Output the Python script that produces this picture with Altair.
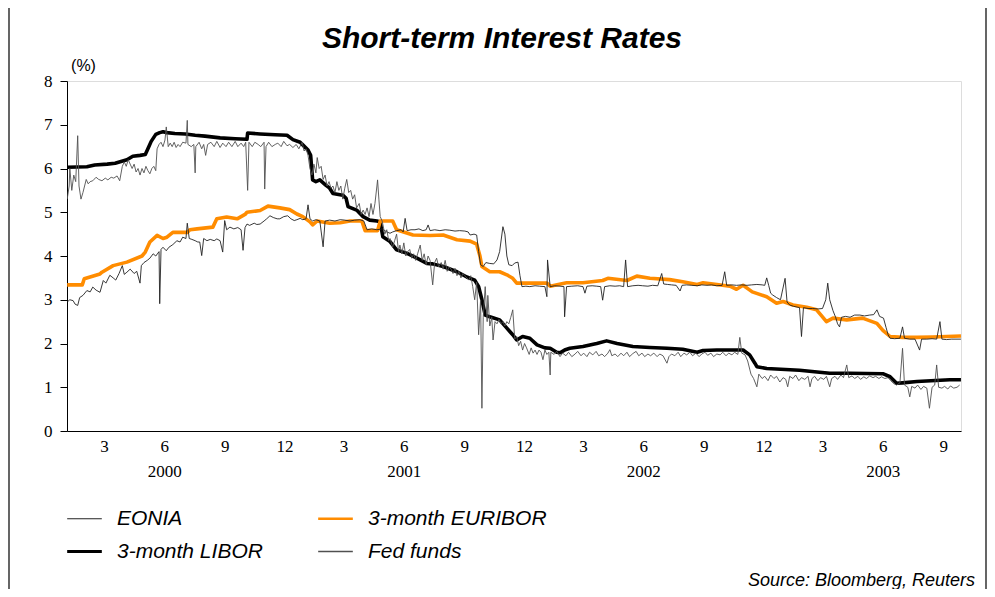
import altair as alt
import pandas as pd

# ---- data: (day offset from 2000-01-01, rate in %) ----
LIBOR = [(4,6.03),(34,6.04),(46,6.08),(65,6.10),(77,6.12),(95,6.20),(104,6.28),(115,6.30),(123,6.32),(127,6.45),
         (132,6.62),(139,6.78),(145,6.82),(150,6.84),(156,6.82),(168,6.80),(184,6.79),(199,6.76),(214,6.74),(237,6.70),
         (260,6.68),(278,6.67),(279,6.81),(298,6.79),(321,6.77),(339,6.76),(348,6.66),(359,6.60),(363,6.54),(371,6.42),
         (375,6.30),(378,5.74),(383,5.70),(389,5.74),(398,5.62),(404,5.55),(409,5.43),(424,5.39),(429,5.32),(432,5.13),
         (445,5.05),(455,4.90),(465,4.82),(476,4.80),(481,4.78),(485,4.44),(496,4.33),(506,4.14),(522,4.06),(537,3.95),
         (552,3.83),(561,3.82),(577,3.76),(598,3.64),(613,3.52),(625,3.45),(631,3.30),(636,3.00),(641,2.65),(648,2.61),
         (663,2.54),(674,2.35),(683,2.20),(689,2.08),(698,2.16),(709,2.12),(720,1.97),(732,1.90),(740,1.89),(750,1.80),
         (755,1.79),(762,1.85),(770,1.89),(790,1.93),(811,2.00),(826,2.06),(842,2.00),(866,1.93),(892,1.91),(918,1.89),
         (942,1.87),(964,1.80),(973,1.84),(994,1.85),(1034,1.85),(1044,1.74),(1052,1.55),(1055,1.47),(1070,1.43),(1120,1.39),
         (1166,1.32),(1197,1.32),(1247,1.31),(1258,1.24),(1268,1.09),(1277,1.10),(1299,1.13),(1349,1.17),(1366,1.17)]

EURIBOR = [(4,3.34),(27,3.34),(30,3.48),(54,3.59),(57,3.63),(74,3.78),(95,3.86),(118,4.00),(123,4.09),(130,4.32),
           (141,4.47),(150,4.40),(156,4.43),(165,4.54),(187,4.54),(191,4.60),(202,4.62),(226,4.66),(232,4.85),(247,4.89),
           (263,4.85),(275,4.95),(278,5.00),(298,5.04),(310,5.14),(328,5.10),(343,5.06),(354,4.96),(363,4.90),(374,4.78),
           (378,4.71),(385,4.80),(404,4.75),(420,4.76),(435,4.80),(453,4.80),(458,4.58),(477,4.58),(481,4.80),(500,4.80),
           (506,4.60),(531,4.48),(557,4.47),(577,4.48),(598,4.37),(618,4.34),(628,4.27),(633,4.00),(636,3.76),(648,3.64),
           (663,3.64),(674,3.57),(683,3.49),(689,3.38),(709,3.38),(735,3.38),(740,3.31),(765,3.39),(790,3.39),(820,3.44),
           (828,3.49),(857,3.44),(872,3.54),(892,3.49),(922,3.46),(942,3.41),(964,3.35),(973,3.39),(994,3.35),(1014,3.31),
           (1024,3.24),(1034,3.33),(1048,3.18),(1070,3.07),(1085,2.92),(1095,2.96),(1110,2.88),(1131,2.83),(1146,2.77),(1155,2.61),
           (1161,2.50),(1171,2.58),(1192,2.54),(1216,2.58),(1238,2.46),(1247,2.30),(1258,2.16),(1277,2.14),(1299,2.14),(1323,2.15),
           (1366,2.17)]

EONIA = [(4,2.95),(8,3.0),(13,2.98),(16,2.9),(20,2.87),(23,3.05),(28,3.1),(34,3.21),(39,3.18),(43,3.29),(48,3.22),(54,3.17),
         (59,3.44),(63,3.38),(69,3.56),(74,3.5),(78,3.45),(83,3.6),(88,3.78),(91,3.58),(95,3.63),(100,3.7),(106,3.6),(110,3.65),
         (115,3.38),(117,3.78),(121,3.85),(126,3.9),(130,3.95),(135,4.05),(139,4.0),(144,4.1),(145,2.91),(147,4.15),(150,4.2),
         (155,4.12),(159,4.2),(164,4.25),(168,4.3),(171,4.35),(176,4.32),(180,4.43),(185,4.4),(187,4.75),(190,4.4),(194,4.38),
         (199,4.35),(203,4.32),(206,4.32),(209,4.01),(212,4.4),(217,4.35),(222,4.38),(228,4.35),(232,4.39),(237,4.35),(241,4.09),
         (244,4.81),(247,4.6),(252,4.66),(258,4.62),(264,4.65),(269,4.6),(272,4.13),(275,4.65),(278,4.73),(282,4.7),(289,4.75),
         (293,4.72),(298,4.73),(304,4.8),(308,4.85),(313,4.92),(318,4.88),(324,4.85),(328,4.85),(334,4.9),(340,4.92),(345,4.85),
         (350,4.81),(354,4.83),(359,4.86),(363,4.83),(368,4.85),(371,5.17),(374,4.85),(378,4.8),(383,4.83),(389,4.8),(394,4.21),
         (397,4.8),(404,4.82),(412,4.8),(420,4.83),(427,4.82),(435,4.8),(442,4.82),(450,4.83),(456,4.8),(461,4.6),(468,4.62),
         (476,4.6),(484,4.62),(491,4.55),(496,4.52),(500,4.55),(506,4.58),(513,4.6),(516,4.55),(519,4.86),(522,4.58),(528,4.6),
         (534,4.6),(540,4.62),(546,4.58),(551,4.6),(554,4.71),(557,4.58),(564,4.6),(572,4.58),(580,4.6),(587,4.59),(595,4.57),
         (602,4.58),(610,4.57),(615,4.55),(618,4.48),(624,4.5),(628,4.48),(631,4.1),(634,3.8),(638,3.76),(642,3.85),(648,3.83),
         (654,3.82),(659,3.91),(663,4.1),(668,4.67),(671,4.5),(674,4.0),(677,3.8),(682,3.78),(686,3.84),(691,3.86),(694,3.55),
         (697,3.3),(703,3.31),(709,3.3),(717,3.32),(724,3.31),(732,3.3),(735,3.07),(736,3.91),(740,3.3),(747,3.32),(755,3.31),
         (761,3.3),(762,2.61),(765,3.3),(773,3.31),(782,3.32),(790,3.3),(793,3.15),(796,3.31),(804,3.32),(811,3.31),(817,3.3),
         (820,2.99),(823,3.3),(831,3.32),(839,3.31),(846,3.32),(852,3.3),(855,3.91),(858,3.3),(866,3.32),(874,3.33),(881,3.32),
         (889,3.31),(896,3.33),(904,3.32),(910,3.6),(913,3.36),(919,3.35),(925,3.34),(932,3.33),(938,3.2),(941,3.33),(948,3.34),
         (956,3.33),(964,3.32),(971,3.34),(979,3.33),(986,3.34),(994,3.32),(1002,3.33),(1006,3.64),(1009,3.33),(1017,3.34),
         (1024,3.33),(1032,3.34),(1040,3.33),(1047,3.34),(1055,3.35),(1063,3.34),(1067,3.33),(1070,3.5),(1073,3.33),(1076,3.15),
         (1079,3.11),(1085,3.05),(1091,3.0),(1098,3.49),(1101,2.95),(1105,2.88),(1111,2.85),(1120,2.82),(1123,2.16),(1126,2.82),
         (1133,2.8),(1140,2.8),(1148,2.79),(1155,2.8),(1160,3.0),(1163,3.38),(1166,3.0),(1171,2.75),(1175,2.6),(1178,2.45),
         (1181,2.38),(1184,2.6),(1190,2.62),(1197,2.6),(1204,2.65),(1212,2.65),(1219,2.63),(1227,2.65),(1233,2.66),(1238,2.77),
         (1242,2.62),(1248,2.58),(1252,2.36),(1255,2.2),(1258,2.12),(1265,2.11),(1273,2.12),(1277,2.38),(1280,2.12),(1288,2.1),
         (1296,2.1),(1303,1.85),(1306,2.1),(1314,2.1),(1322,2.11),(1329,2.1),(1334,2.5),(1337,2.1),(1344,2.09),(1352,2.1),
         (1360,2.1),(1366,2.1)]

FED_FUNDS = [(4,5.3),(7,5.6),(8,6.0),(11,5.5),(14,5.85),(17,5.7),(20,6.75),(22,5.6),(25,5.3),(28,5.45),(33,5.75),(36,5.65),
             (39,5.7),(43,5.72),(48,5.8),(52,5.75),(57,5.72),(62,5.78),(66,5.74),(71,5.8),(75,5.78),(80,5.83),(84,5.72),(88,6.05),
             (91,6.15),(94,6.05),(97,6.2),(100,6.1),(103,6.0),(106,6.1),(109,5.92),(112,6.0),(115,5.85),(118,6.0),(121,5.9),
             (124,6.05),(127,5.95),(130,5.88),(133,6.0),(136,6.05),(139,5.95),(141,6.45),(144,6.55),(147,6.6),(150,6.5),(153,6.65),
             (155,6.95),(158,6.5),(161,6.58),(164,6.5),(167,6.6),(170,6.48),(173,6.55),(176,6.5),(180,6.6),(185,6.58),(187,7.1),
             (188,6.55),(193,6.5),(197,6.55),(199,5.9),(200,6.5),(205,6.6),(209,6.45),(212,6.55),(215,6.3),(218,6.55),(223,6.6),
             (228,6.5),(232,6.62),(237,6.48),(241,6.58),(246,6.5),(250,6.6),(255,6.5),(260,6.62),(264,6.5),(269,6.58),(273,6.5),
             (276,6.6),(279,5.5),(281,6.6),(286,6.5),(290,6.6),(295,6.55),(299,6.5),(304,6.6),(305,5.53),(307,6.5),(311,6.6),
             (316,6.5),(321,6.55),(325,6.58),(330,6.5),(334,6.62),(339,6.52),(343,6.55),(348,6.48),(353,6.55),(357,6.45),(362,6.6),
             (365,6.4),(368,6.45),(371,6.3),(374,6.0),(377,5.85),(380,6.1),(383,5.9),(385,6.25),(388,6.0),(391,6.05),(394,5.75),
             (397,5.85),(400,5.6),(403,5.7),(406,5.55),(409,5.6),(412,5.45),(415,5.7),(418,5.5),(421,5.6),(424,5.3),(427,5.55),
             (430,5.75),(433,5.45),(436,5.5),(439,5.3),(442,5.4),(445,5.1),(449,5.2),(452,4.95),(455,5.05),(458,4.95),(461,5.1),
             (464,4.9),(467,5.2),(470,4.95),(473,5.2),(476,5.6),(477,5.74),(479,5.3),(481,4.9),(484,4.8),(488,4.5),(491,4.6),
             (494,4.35),(496,4.4),(500,4.2),(503,4.35),(506,4.5),(509,4.1),(511,4.25),(514,4.05),(517,4.3),(520,4.0),(523,4.1),
             (526,4.15),(529,3.95),(532,4.05),(535,3.9),(538,4.05),(542,4.25),(545,3.9),(548,4.05),(551,3.8),(554,4.0),(557,3.9),
             (561,3.34),(564,3.85),(567,3.95),(570,3.75),(574,3.85),(577,3.7),(580,3.9),(583,3.65),(586,3.75),(589,3.7),(592,3.6),
             (595,3.72),(598,3.55),(601,3.65),(604,3.5),(607,3.6),(610,3.55),(613,3.5),(616,3.45),(619,3.55),(622,3.3),(625,3.0),
             (628,3.4),(631,2.2),(634,3.0),(636,0.52),(638,2.6),(641,3.3),(644,2.5),(645,3.1),(648,2.4),(651,2.6),(653,2.08),
             (656,2.5),(659,2.45),(662,2.55),(665,2.45),(668,2.5),(671,2.4),(674,2.5),(677,2.45),(680,2.6),(683,2.77),(686,2.1),
             (689,2.16),(692,1.95),(695,2.05),(698,1.85),(701,2.0),(704,1.9),(708,1.75),(711,1.9),(714,1.78),(717,1.85),(720,1.75),
             (723,1.85),(726,1.8),(729,1.63),(732,1.85),(735,1.75),(738,1.8),(740,1.28),(741,1.8),(746,1.75),(750,1.82),(755,1.7),
             (759,1.78),(764,1.72),(768,1.8),(773,1.7),(778,1.76),(782,1.82),(787,1.72),(791,1.78),(796,1.7),(800,1.8),(805,1.74),
             (810,1.82),(814,1.72),(819,1.76),(823,1.7),(828,1.78),(831,1.86),(834,1.72),(839,1.76),(843,1.7),(848,1.78),(852,1.72),
             (857,1.8),(861,1.7),(866,1.77),(871,1.82),(875,1.72),(880,1.78),(884,1.7),(889,1.76),(893,1.72),(898,1.78),(903,1.7),
             (907,1.76),(912,1.72),(918,1.55),(921,1.7),(925,1.76),(930,1.72),(935,1.8),(939,1.7),(944,1.78),(948,1.74),(953,1.8),
             (957,1.72),(962,1.78),(967,1.7),(971,1.76),(976,1.8),(980,1.73),(985,1.78),(989,1.7),(994,1.76),(999,1.74),(1003,1.8),
             (1008,1.72),(1012,1.78),(1017,1.74),(1021,1.8),(1026,1.75),(1029,2.14),(1032,1.78),(1037,1.74),(1041,1.6),(1046,1.3),
             (1050,1.2),(1055,1.01),(1058,1.3),(1063,1.2),(1067,1.25),(1072,1.15),(1076,1.28),(1081,1.2),(1085,1.25),(1090,1.12),
             (1095,1.22),(1099,1.18),(1102,1.01),(1105,1.25),(1110,1.2),(1114,1.28),(1119,1.15),(1123,1.22),(1128,1.18),(1133,1.25),
             (1136,1.01),(1139,1.2),(1143,1.25),(1148,1.15),(1152,1.22),(1157,1.18),(1161,1.25),(1166,1.01),(1169,1.2),(1174,1.25),
             (1178,1.18),(1183,1.28),(1187,1.22),(1192,1.51),(1195,1.22),(1200,1.26),(1204,1.2),(1209,1.25),(1213,1.18),(1218,1.24),
             (1222,1.2),(1227,1.26),(1232,1.22),(1236,1.25),(1241,1.2),(1245,1.24),(1250,1.2),(1255,1.22),(1259,1.15),(1264,1.08),
             (1268,1.05),(1273,1.1),(1277,1.89),(1280,1.05),(1285,1.0),(1288,0.78),(1291,1.02),(1296,0.98),(1300,1.05),(1305,0.95),
             (1309,1.02),(1314,0.98),(1318,0.52),(1322,1.0),(1326,1.05),(1329,1.51),(1332,1.0),(1337,0.98),(1341,1.02),(1346,0.96),
             (1350,1.03),(1355,0.98),(1360,1.0),(1364,1.05)]

SERIES_NAMES = ["EONIA", "3-month EURIBOR", "3-month LIBOR", "Fed funds"]
SERIES_COLORS = ["#222222", "#FF8C00", "#000000", "#505050"]
LEGEND_WIDTHS = [1, 2.6, 3.2, 1.4]
Y_TICKS = [0, 1, 2, 3, 4, 5, 6, 7, 8]
TITLE = "Short-term Interest Rates"
SOURCE = "Source: Bloomberg, Reuters"

BASE = pd.Timestamp("2000-01-01")


def to_frame(name, pairs):
    days = [p[0] for p in pairs]
    vals = [p[1] for p in pairs]
    return pd.DataFrame({
        "date": BASE + pd.to_timedelta(days, unit="D"),
        "rate": vals,
        "series": name,
    })


thick_df = pd.concat([to_frame("3-month LIBOR", LIBOR), to_frame("3-month EURIBOR", EURIBOR)])
thin_df = pd.concat([to_frame("EONIA", EONIA), to_frame("Fed funds", FED_FUNDS)])

tick_dates = []
for yr in [2000, 2001, 2002, 2003]:
    for mo in [3, 6, 9, 12]:
        if yr == 2003 and mo > 9:
            continue
        tick_dates.append(alt.DateTime(year=yr, month=mo, date=1))

x_scale = alt.Scale(domain=[alt.DateTime(year=2000, month=1, date=4, hours=17),
                            alt.DateTime(year=2003, month=9, date=28, hours=2)], nice=False)
y_scale = alt.Scale(domain=[0, 8], nice=False, zero=True)

x_axis = alt.Axis(
    values=tick_dates, title=None, grid=False, ticks=False, domainColor="black",
    labelFont="Liberation Serif", labelFontSize=17, labelColor="black", labelPadding=7,
    labelLineHeight=25, labelOverlap=False, labelFlush=False,
    labelExpr="month(datum.value) == 5 ? [''+(month(datum.value)+1), ''+year(datum.value)] : ''+(month(datum.value)+1)",
)
y_axis = alt.Axis(
    values=Y_TICKS, grid=False, tickSize=7, tickColor="black", domainColor="black",
    labelFont="Liberation Serif", labelFontSize=17, labelColor="black", labelPadding=8,
    title="(%)", titleAngle=0, titleX=16, titleY=-11, titleAlign="center", titleBaseline="alphabetic",
    titleFont="Liberation Sans", titleFontSize=16, titleFontWeight="normal", titleColor="black",
)

width_expr = ("datum.value == '3-month LIBOR' ? {l} : datum.value == '3-month EURIBOR' ? {e} : "
              "datum.value == 'Fed funds' ? {f} : {o}").format(
    l=LEGEND_WIDTHS[2], e=LEGEND_WIDTHS[1], f=LEGEND_WIDTHS[3], o=LEGEND_WIDTHS[0])

color_scale = alt.Scale(domain=SERIES_NAMES, range=SERIES_COLORS)
legend = alt.Legend(
    title=None, orient="none", legendX=7, legendY=427, columns=2, direction="horizontal",
    symbolType="stroke", symbolSize=1200, labelOffset=22, columnPadding=49, rowPadding=11,
    labelFont="Liberation Sans", labelFontStyle="italic", labelFontSize=21, labelColor="black",
    padding=0, labelLimit=400,
    symbolStrokeWidth=alt.ExprRef(expr=width_expr),
)

thick = alt.Chart(thick_df).mark_line(strokeJoin="round", clip=True).encode(
    x=alt.X("date:T", scale=x_scale, axis=x_axis),
    y=alt.Y("rate:Q", scale=y_scale, axis=y_axis),
    color=alt.Color("series:N", scale=color_scale, legend=legend),
    strokeWidth=alt.value(3.6),
    detail="series:N",
)

thin = alt.Chart(thin_df).mark_line(clip=True).encode(
    x=alt.X("date:T", scale=x_scale, axis=x_axis),
    y=alt.Y("rate:Q", scale=y_scale, axis=y_axis),
    color=alt.Color("series:N", scale=color_scale, legend=legend),
    strokeWidth=alt.value(0.9),
    detail="series:N",
)

title_text = alt.Chart(pd.DataFrame({"t": [TITLE]})).mark_text(
    align="center", baseline="alphabetic", font="Liberation Sans", fontStyle="italic",
    fontWeight="bold", fontSize=30, color="black",
).encode(x=alt.value(435), y=alt.value(-33), text="t:N")

source_text = alt.Chart(pd.DataFrame({"t": [SOURCE]})).mark_text(
    align="right", baseline="alphabetic", font="Liberation Sans", fontStyle="italic",
    fontSize=18, color="black",
).encode(x=alt.value(908), y=alt.value(505), text="t:N")

frame = alt.Chart(pd.DataFrame({"k": [0]})).mark_rect(
    filled=False, stroke="black", strokeWidth=1.2,
).encode(x=alt.value(-58), x2=alt.value(919), y=alt.value(-76), y2=alt.value(560))

chart = alt.layer(frame, thick, thin, title_text, source_text).properties(
    width=894,
    height=350,
    autosize=alt.AutoSizeParams(type="none"),
    padding={"left": 59, "top": 73, "right": 26, "bottom": 158},
).configure_view(stroke="#808080", strokeWidth=1).configure(background="white")

chart.save("out.html", embed_options={"renderer": "svg", "actions": False})
